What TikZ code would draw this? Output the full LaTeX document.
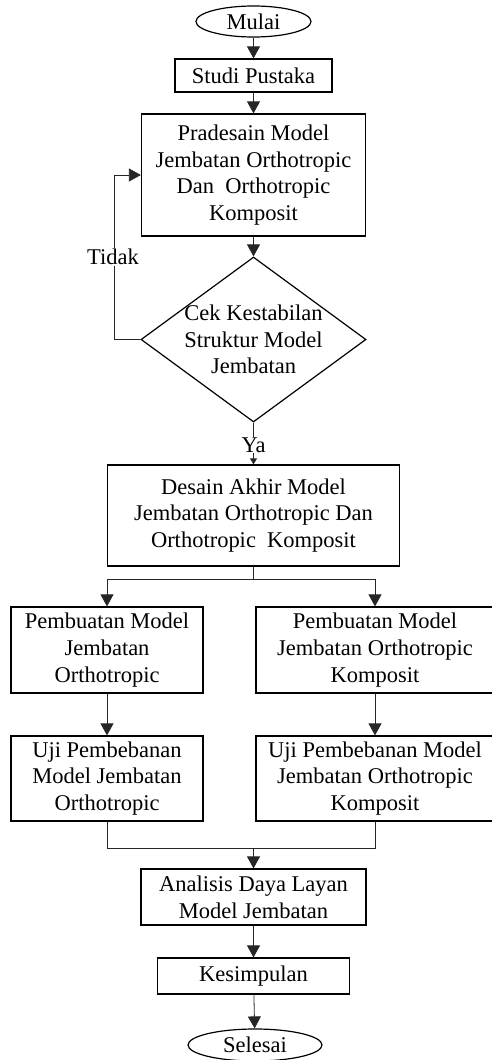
\documentclass[tikz,border=0pt]{standalone}
\usepackage{fontspec}
\setmainfont{Liberation Serif}
\usetikzlibrary{shapes.geometric,arrows.meta}
\begin{document}
\begin{tikzpicture}[x=1pt,y=-1pt,
  font=\fontsize{22.5}{26.7}\selectfont,
  box/.style={draw,line width=1.2pt,inner sep=0pt,align=center},
  term/.style={draw,ellipse,line width=1.2pt,inner sep=0pt},
  dec/.style={draw,diamond,line width=1.2pt,inner sep=0pt},
  conn/.style={line width=0.8pt,draw=black!85},
  arr/.style={conn,-{Triangle[length=12pt,width=13pt]}},
  sarr/.style={conn,-{Triangle[length=6pt,width=7pt]}},
  lbl/.style={fill=white,inner sep=1pt}]
\useasboundingbox (0,0) rectangle (491,1060);
\node[term,minimum width=115pt,minimum height=31pt] (mulai) at (253.5,21.5) {Mulai};
\node[box,minimum width=157pt,minimum height=33pt] (studi) at (253.5,75.5) {Studi Pustaka};
\node[box,minimum width=224pt,minimum height=122pt] (pra) at (253.5,175) {Pradesain Model\\Jembatan Orthotropic\\Dan\ \ Orthotropic\\Komposit};
\node[dec,minimum width=225pt,minimum height=165pt] (cek) at (253.5,339.5) {};
\node[align=center,inner sep=0pt] (cektxt) at (253.5,339.5) {Cek Kestabilan\\Struktur Model\\Jembatan};
\node[box,minimum width=292pt,minimum height=101pt] (desain) at (253.5,515.5) {Desain Akhir Model\\Jembatan Orthotropic Dan\\Orthotropic\ \ Komposit};
\node[box,minimum width=192pt,minimum height=86pt] (pm1) at (107,650) {Pembuatan Model\\Jembatan\\Orthotropic};
\node[box,minimum width=238pt,minimum height=86pt] (pm2) at (375,650) {Pembuatan Model\\Jembatan Orthotropic\\Komposit};
\node[box,minimum width=192pt,minimum height=85pt] (uji1) at (107,778.5) {Uji Pembebanan\\Model Jembatan\\Orthotropic};
\node[box,minimum width=238pt,minimum height=85pt] (uji2) at (375,778.5) {Uji Pembebanan Model\\Jembatan Orthotropic\\Komposit};
\node[box,minimum width=225pt,minimum height=56pt] (anal) at (253.5,897) {Analisis Daya Layan\\Model Jembatan};
\node[box,minimum width=192pt,minimum height=36pt] (kes) at (253.5,976) {Kesimpulan};
\node[term,minimum width=134pt,minimum height=32pt] (sel) at (255,1045) {Selesai};

\coordinate (loop) at (114,339.5);
\coordinate (split) at (253.5,579);
\coordinate (merge) at (253.5,848);

\draw[arr] (mulai) -- (studi);
\draw[arr] (studi) -- (pra);
\draw[arr] (pra) -- (cek.north);
\draw[arr] (cek.west) -- (loop) |- (pra.west);
\node[lbl] (tidak) at (113,257) {Tidak};
\draw[sarr] (cek.south) -- (desain.north);
\node[lbl] (ya) at (253.5,445) {Ya};
\draw[conn] (desain.south) -- (split);
\draw[arr] (split) -| (pm1.north);
\draw[arr] (split) -| (pm2.north);
\draw[arr] (pm1) -- (uji1);
\draw[arr] (pm2) -- (uji2);
\draw[conn] (uji1.south) |- (merge) -| (uji2.south);
\draw[arr] (merge) -- (anal.north);
\draw[arr] (anal) -- (kes);
\draw[arr] (kes) -- (sel);
\end{tikzpicture}
\end{document}
